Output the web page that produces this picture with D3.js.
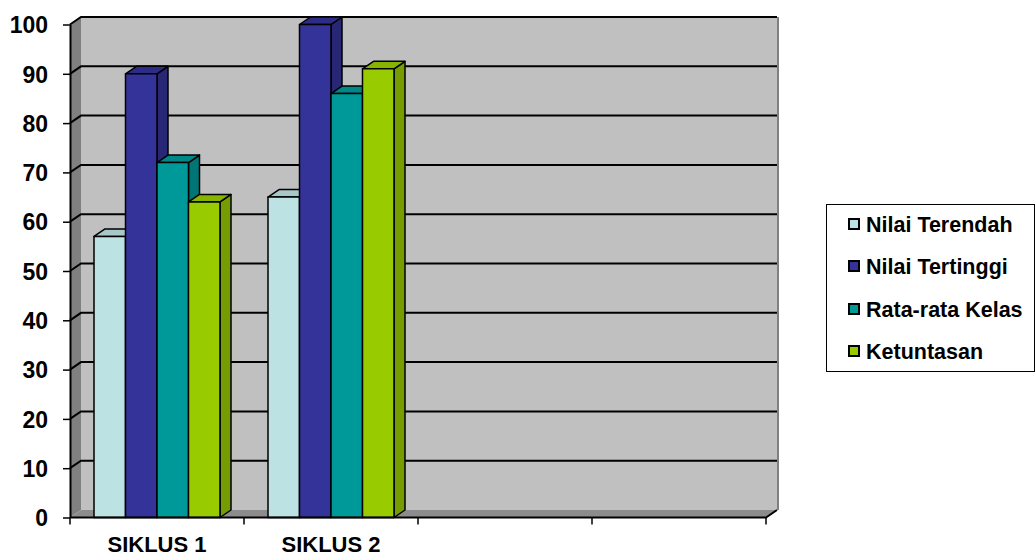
<!DOCTYPE html>
<html>
<head>
<meta charset="utf-8">
<script src="https://cdn.jsdelivr.net/npm/d3@7"></script>
<style>
  html, body { margin: 0; padding: 0; background: #ffffff; }
  svg { display: block; }
  text { font-family: "Liberation Sans", Arial, sans-serif; font-weight: bold; fill: #000; }
</style>
</head>
<body>
<svg id="chart" width="1035" height="556"></svg>
<script>
// ---- data ----
const categories = ["SIKLUS 1", "SIKLUS 2", "", ""];
const seriesNames = ["Nilai Terendah", "Nilai Tertinggi", "Rata-rata Kelas", "Ketuntasan"];
const nilaiTerendah = [57, 65];
const nilaiTertinggi = [90, 100];
const rataRataKelas = [72, 86];
const ketuntasan = [64, 91];
const yTicks = [0, 10, 20, 30, 40, 50, 60, 70, 80, 90, 100];
const seriesColors = ["#bde2e4", "#333399", "#009999", "#99cc00"];

const seriesValues = [nilaiTerendah, nilaiTertinggi, rataRataKelas, ketuntasan];

// ---- layout ----
const svg = d3.select("#chart");
const pL = 70, pR = 766, pB = 517.5, pT = 24.5;
const dx = 11, dy = -7.5; // 3D depth offset

const y = d3.scaleLinear().domain([0, 100]).range([pB, pT]);
const x0 = d3.scaleBand().domain(d3.range(categories.length)).range([pL, pR]).padding(0);
const x1 = d3.scaleBand().domain(d3.range(seriesNames.length)).range([0, x0.bandwidth()])
  .paddingInner(0).paddingOuter(0.762);

// walls
const g = svg.append("g");
g.append("rect").attr("x", pL + dx).attr("y", pT + dy)
  .attr("width", pR - pL).attr("height", pB - pT)
  .attr("fill", "#c0c0c0");
g.append("path").attr("d", `M${pL},${pB} L${pL},${pT} L${pL+dx},${pT+dy} L${pL+dx},${pB+dy} Z`)
  .attr("fill", "#808080");
g.append("path").attr("d", `M${pL},${pB} L${pR},${pB} L${pR+dx},${pB+dy} L${pL+dx},${pB+dy} Z`)
  .attr("fill", "#8c8c8c");
g.append("line").attr("x1", pR + dx + 1).attr("x2", pR + dx + 1)
  .attr("y1", pT + dy).attr("y2", pB + dy)
  .attr("stroke", "#808080").attr("stroke-width", 2);

// gridlines
yTicks.filter(v => v > 0).forEach(v => {
  const yy = y(v);
  g.append("path")
    .attr("d", `M${pL},${yy} L${pL+dx},${yy+dy} L${pR+dx},${yy+dy}`)
    .attr("fill", "none").attr("stroke", "#000").attr("stroke-width", 2);
});

// bars
const bars = svg.append("g");
categories.forEach((cat, ci) => {
  seriesValues.forEach((vals, si) => {
    const v = vals[ci];
    if (v === undefined) return;
    const xl = x0(ci) + x1(si);
    const w = x1.bandwidth();
    const yt = y(v), yb = y(0);
    const c = d3.color(seriesColors[si]);
    const topC = d3.color(seriesColors[si]).darker(0.35);
    const sideC = d3.color(seriesColors[si]).darker(0.75);
    const bg = bars.append("g").attr("stroke", "#000").attr("stroke-width", 1.5).attr("stroke-linejoin", "round");
    bg.append("path").attr("d", `M${xl+w},${yb} L${xl+w},${yt} L${xl+w+dx},${yt+dy} L${xl+w+dx},${yb+dy} Z`)
      .attr("fill", sideC);
    bg.append("path").attr("d", `M${xl},${yt} L${xl+w},${yt} L${xl+w+dx},${yt+dy} L${xl+dx},${yt+dy} Z`)
      .attr("fill", topC);
    bg.append("rect").attr("x", xl).attr("y", yt).attr("width", w).attr("height", yb - yt)
      .attr("fill", c);
  });
});

// floor front edge and right diagonal
svg.append("path").attr("d", `M${pL},${pB} L${pR},${pB} L${pR+dx},${pB+dy}`)
  .attr("fill", "none").attr("stroke", "#000").attr("stroke-width", 2);

// y axis
const yAxis = d3.axisLeft(y).tickValues(yTicks).tickSize(7).tickPadding(15).tickSizeOuter(0);
const ya = svg.append("g").attr("transform", `translate(${pL},0)`).call(yAxis);
ya.select(".domain").attr("stroke", "#000").attr("stroke-width", 2);
ya.selectAll(".tick line").attr("stroke", "#000").attr("stroke-width", 1.5);
ya.selectAll(".tick text").attr("font-size", 23).attr("font-family", "Liberation Sans, Arial, sans-serif")
  .attr("font-weight", "bold").attr("fill", "#000").attr("dy", "0.36em");

// x axis ticks at boundaries
const bounds = d3.range(categories.length).map(i => x0(i)).concat([pR]);
svg.append("g").selectAll("line").data(bounds).join("line")
  .attr("x1", d => d).attr("x2", d => d).attr("y1", pB).attr("y2", pB + 7)
  .attr("stroke", "#000").attr("stroke-width", 1.5);
svg.append("g").selectAll("text").data(categories).join("text")
  .attr("x", (d, i) => x0(i) + x0.bandwidth() / 2)
  .attr("y", 552)
  .attr("text-anchor", "middle")
  .attr("font-size", 22)
  .text(d => d);

// legend
const lg = svg.append("g");
lg.append("rect").attr("x", 826.5).attr("y", 204.5).attr("width", 208).attr("height", 167)
  .attr("fill", "#fff").attr("stroke", "#000").attr("stroke-width", 1);
const rowY = [224, 266, 309, 351];
seriesNames.forEach((name, i) => {
  lg.append("rect").attr("x", 849).attr("y", rowY[i] - 5).attr("width", 10).attr("height", 10)
    .attr("fill", seriesColors[i]).attr("stroke", "#000").attr("stroke-width", 2);
  lg.append("text").attr("x", 866).attr("y", rowY[i] + 7.5).attr("font-size", 21.5).text(name);
});
</script>
</body>
</html>
